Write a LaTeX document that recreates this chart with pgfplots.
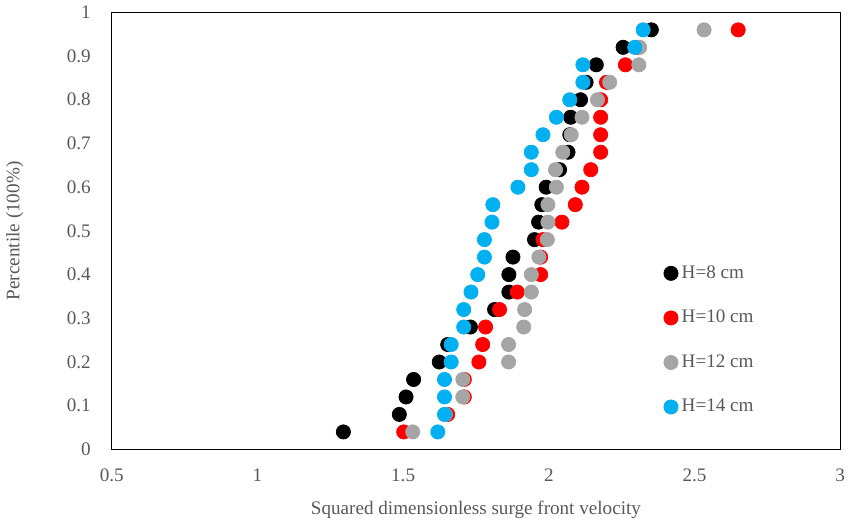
\documentclass[border=0pt]{standalone}
\usepackage{pgfplots}
\pgfplotsset{compat=1.18}
\usepackage{fontspec}
\setmainfont{Liberation Serif}
\definecolor{txt}{RGB}{89,89,89}
\definecolor{cgrey}{RGB}{165,165,165}
\definecolor{cblue}{RGB}{0,176,240}
\definecolor{cred}{RGB}{255,0,0}
\begin{document}
\begin{tikzpicture}
\begin{axis}[
  scale only axis,
  width=400pt, height=240pt,
  xmin=0.5, xmax=3, ymin=0, ymax=1,
  xtick={0.5,1,...,3}, ytick={0,0.1,...,1},
  xticklabels={0.5,1,1.5,2,2.5,3},
  yticklabels={0,0.1,0.2,0.3,0.4,0.5,0.6,0.7,0.8,0.9,1},
  major tick length=0,
  axis line style={black, line width=0.7pt},
  tick label style={font=\fontsize{10.5}{12}\selectfont, text=txt},
  xticklabel style={yshift=-7pt},
  yticklabel style={xshift=-8pt},
  xlabel={Squared dimensionless surge front velocity},
  ylabel={Percentile (100\%)},
  label style={font=\fontsize{10.5}{12}\selectfont, text=txt},
  xlabel style={yshift=-4pt},
  ylabel style={yshift=17pt},
  legend style={draw=none, fill=none, at={(0.75,0.25)}, anchor=west,
    font=\fontsize{10.5}{12}\selectfont, text=txt, row sep=12pt,
    /tikz/every even column/.append style={column sep=2pt}},
  legend cell align=left,
  every axis plot/.append style={only marks, mark=*, mark size=3.9pt},
]
\addplot[black, mark options={fill=black, draw=black}] coordinates {
(1.295,0.04)(1.487,0.08)(1.510,0.12)(1.536,0.16)(1.624,0.20)(1.653,0.24)
(1.731,0.28)(1.814,0.32)(1.863,0.36)(1.863,0.40)(1.877,0.44)(1.951,0.48)
(1.965,0.52)(1.976,0.56)(1.991,0.60)(2.037,0.64)(2.066,0.68)(2.072,0.72)
(2.075,0.76)(2.109,0.80)(2.128,0.84)(2.163,0.88)(2.255,0.92)(2.352,0.96)};
\addlegendentry{H=8 cm}
\addplot[cred, mark options={fill=cred, draw=cred}] coordinates {
(1.502,0.04)(1.653,0.08)(1.710,0.12)(1.710,0.16)(1.760,0.20)(1.773,0.24)
(1.783,0.28)(1.831,0.32)(1.892,0.36)(1.972,0.40)(1.972,0.44)(1.980,0.48)
(2.045,0.52)(2.091,0.56)(2.114,0.60)(2.144,0.64)(2.178,0.68)(2.178,0.72)
(2.178,0.76)(2.178,0.80)(2.198,0.84)(2.263,0.88)(2.305,0.92)(2.650,0.96)};
\addlegendentry{H=10 cm}
\addplot[cgrey, mark options={fill=cgrey, draw=cgrey}] coordinates {
(1.533,0.04)(1.645,0.08)(1.705,0.12)(1.705,0.16)(1.862,0.20)(1.862,0.24)
(1.914,0.28)(1.917,0.32)(1.940,0.36)(1.940,0.40)(1.966,0.44)(1.995,0.48)
(1.997,0.52)(1.997,0.56)(2.026,0.60)(2.023,0.64)(2.048,0.68)(2.077,0.72)
(2.114,0.76)(2.167,0.80)(2.209,0.84)(2.309,0.88)(2.312,0.92)(2.533,0.96)};
\addlegendentry{H=12 cm}
\addplot[cblue, mark options={fill=cblue, draw=cblue}] coordinates {
(1.619,0.04)(1.642,0.08)(1.642,0.12)(1.642,0.16)(1.665,0.20)(1.665,0.24)
(1.708,0.28)(1.708,0.32)(1.733,0.36)(1.756,0.40)(1.779,0.44)(1.779,0.48)
(1.805,0.52)(1.808,0.56)(1.894,0.60)(1.940,0.64)(1.940,0.68)(1.980,0.72)
(2.026,0.76)(2.072,0.80)(2.117,0.84)(2.117,0.88)(2.295,0.92)(2.324,0.96)};
\addlegendentry{H=14 cm}
\end{axis}
\end{tikzpicture}
\end{document}
